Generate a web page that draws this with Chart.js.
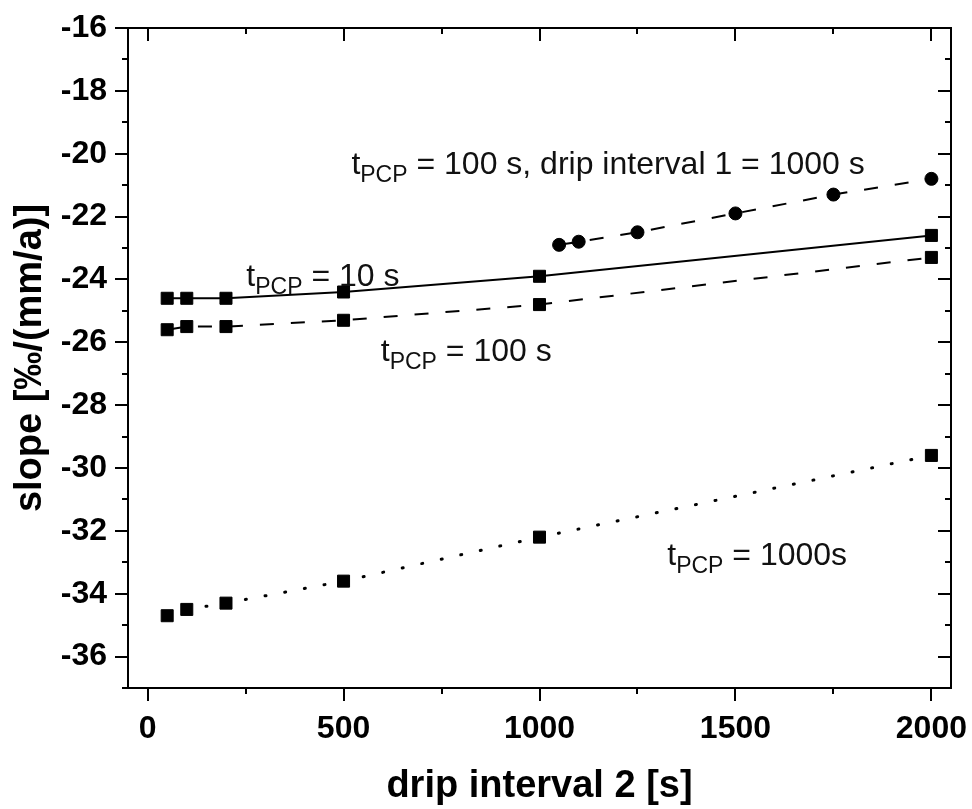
<!DOCTYPE html>
<html>
<head>
<meta charset="utf-8">
<script src="https://cdn.jsdelivr.net/npm/chart.js@4"></script>
<style>
  body { margin: 0; background: #fff; }
  #wrap { width: 972px; height: 809px; }
</style>
</head>
<body>
<div id="wrap"><canvas id="slopeChart" width="972" height="809"></canvas></div>
<script>
// values
const dripInterval2 = [50, 100, 200, 500, 1000, 2000];
const slopePcp10 = [-24.6, -24.6, -24.6, -24.4, -23.9, -22.6];
const slopePcp100 = [-25.6, -25.5, -25.5, -25.3, -24.8, -23.3];
const slopePcp1000 = [-34.7, -34.5, -34.3, -33.6, -32.2, -29.6];
const dripInterval2Long = [1050, 1100, 1250, 1500, 1750, 2000];
const slopePcp100Drip1000 = [-22.9, -22.8, -22.5, -21.9, -21.3, -20.8];

const xTicks = [0, 500, 1000, 1500, 2000];
const xMinorTicks = [250, 750, 1250, 1750];
const yTicks = [-36, -34, -32, -30, -28, -26, -24, -22, -20, -18, -16];
const yMinorTicks = [-37, -35, -33, -31, -29, -27, -25, -23, -21, -19, -17];

// labels drawn inside the plot: [main before sub, sub, rest, x, y]
const notes = [
    ['t', 'PCP', ' = 100 s, drip interval 1 = 1000 s', 520, -20.65],
    ['t', 'PCP', ' = 10 s', 252, -24.2],
    ['t', 'PCP', ' = 100 s', 595, -26.6],
    ['t', 'PCP', ' = 1000s', 1326, -33.1]
];

const FONT = "'Liberation Sans', Arial, sans-serif";

function toPoints(xs, ys) {
    return xs.map((x, i) => ({ x: x, y: ys[i] }));
}

const frameTicks = {
    id: 'frameTicks',
    afterDraw(chart) {
        const ctx = chart.ctx;
        const { left, right, top, bottom } = chart.chartArea;
        const xs = chart.scales.x;
        const ys = chart.scales.y;
        ctx.save();
        ctx.strokeStyle = '#000';
        ctx.lineWidth = 2;
        ctx.lineCap = 'butt';
        ctx.strokeRect(left, top, right - left, bottom - top);

        ctx.beginPath();
        const tickX = (v, len) => {
            const px = Math.round(xs.getPixelForValue(v));
            ctx.moveTo(px, bottom); ctx.lineTo(px, bottom + len); // outward
            ctx.moveTo(px, top); ctx.lineTo(px, top + len);       // inward
        };
        const tickY = (v, len) => {
            const py = Math.round(ys.getPixelForValue(v));
            ctx.moveTo(left, py); ctx.lineTo(left - len, py);     // outward
            ctx.moveTo(right, py); ctx.lineTo(right - len, py);   // inward
        };
        xTicks.forEach(v => tickX(v, 13));
        xMinorTicks.forEach(v => tickX(v, 6));
        yTicks.forEach(v => tickY(v, 13));
        yMinorTicks.forEach(v => tickY(v, 6));
        ctx.stroke();
        ctx.restore();
    }
};

const noteLabels = {
    id: 'noteLabels',
    afterDatasetsDraw(chart) {
        const ctx = chart.ctx;
        const xs = chart.scales.x;
        const ys = chart.scales.y;
        ctx.save();
        ctx.fillStyle = '#111';
        ctx.textBaseline = 'alphabetic';
        ctx.textAlign = 'left';
        notes.forEach(n => {
            let px = xs.getPixelForValue(n[3]);
            const py = ys.getPixelForValue(n[4]);
            ctx.font = '32px ' + FONT;
            ctx.fillText(n[0], px, py);
            px += ctx.measureText(n[0]).width;
            ctx.font = '23px ' + FONT;
            ctx.fillText(n[1], px, py + 8);
            px += ctx.measureText(n[1]).width;
            ctx.font = '32px ' + FONT;
            ctx.fillText(n[2], px, py);
        });
        ctx.restore();
    }
};

const squareStyle = {
    pointStyle: 'rect',
    pointRadius: 8.5,
    pointBackgroundColor: '#000',
    pointBorderColor: '#000',
    pointBorderWidth: 1,
    borderColor: '#000',
    borderWidth: 2,
    fill: false,
    tension: 0
};

new Chart(document.getElementById('slopeChart').getContext('2d'), {
    type: 'line',
    data: {
        datasets: [
            Object.assign({ label: 't_PCP = 10 s', data: toPoints(dripInterval2, slopePcp10) }, squareStyle),
            Object.assign({ label: 't_PCP = 100 s', data: toPoints(dripInterval2, slopePcp100), borderDash: [14, 17] }, squareStyle),
            Object.assign({ label: 't_PCP = 1000 s', data: toPoints(dripInterval2, slopePcp1000), borderDash: [1, 19], borderCapStyle: 'round' }, squareStyle, { borderWidth: 3 }),
            {
                label: 't_PCP = 100 s, drip interval 1 = 1000 s',
                data: toPoints(dripInterval2Long, slopePcp100Drip1000),
                borderDash: [14, 17],
                pointStyle: 'circle',
                pointRadius: 6.5,
                pointBackgroundColor: '#000',
                pointBorderColor: '#000',
                pointBorderWidth: 1,
                borderColor: '#000',
                borderWidth: 2,
                fill: false
            }
        ]
    },
    options: {
        responsive: false,
        animation: false,
        layout: { padding: { top: 28, right: 21, left: 0, bottom: 0 } },
        plugins: {
            legend: { display: false },
            tooltip: { enabled: false }
        },
        scales: {
            x: {
                type: 'linear',
                min: -50,
                max: 2050,
                afterBuildTicks: s => { s.ticks = xTicks.map(v => ({ value: v })); },
                afterFit: s => {
                    s.height = 121;
                    s.paddingLeft = 0;
                    s.paddingRight = 0;
                },
                grid: { display: false, drawTicks: false, tickLength: 0 },
                border: { display: false },
                ticks: {
                    color: '#000',
                    padding: 22,
                    maxRotation: 0,
                    callback: v => String(v),
                    font: { family: FONT, size: 32, weight: 'bold' }
                },
                title: {
                    display: true,
                    text: 'drip interval 2 [s]',
                    color: '#000',
                    padding: { top: 0, bottom: 0 },
                    font: { family: FONT, size: 38, weight: 'bold' }
                }
            },
            y: {
                type: 'linear',
                min: -37,
                max: -16,
                afterBuildTicks: s => { s.ticks = yTicks.map(v => ({ value: v })); },
                afterFit: s => {
                    s.width = 128;
                    s.paddingTop = 0;
                    s.paddingBottom = 0;
                },
                grid: { display: false, drawTicks: false, tickLength: 0 },
                border: { display: false },
                ticks: {
                    color: '#000',
                    padding: 21,
                    callback: v => String(v),
                    font: { family: FONT, size: 32, weight: 'bold' }
                },
                title: {
                    display: true,
                    text: 'slope [‰/(mm/a)]',
                    color: '#000',
                    padding: { top: 8, bottom: 0 },
                    font: { family: FONT, size: 38, weight: 'bold' }
                }
            }
        }
    },
    plugins: [frameTicks, noteLabels]
});
</script>
</body>
</html>
